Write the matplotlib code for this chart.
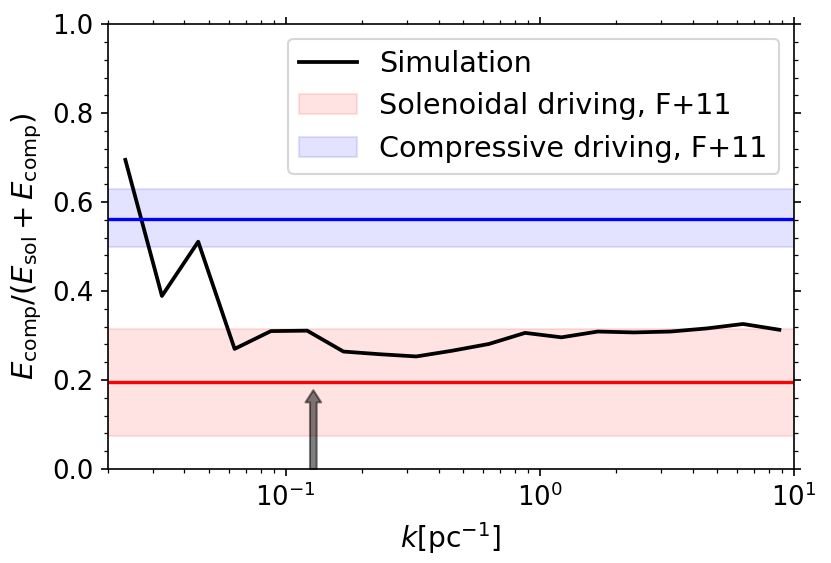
import numpy as np
import matplotlib
matplotlib.use("Agg")
import matplotlib.pyplot as plt

# simulation: compressive energy fraction vs wavenumber
k = [0.0234, 0.0326, 0.0453, 0.0630, 0.0875, 0.1216, 0.169, 0.235, 0.327, 0.454,
     0.631, 0.877, 1.219, 1.694, 2.355, 3.273, 4.550, 6.324, 8.79]
frac = [0.695, 0.389, 0.511, 0.270, 0.310, 0.311, 0.264, 0.258, 0.253, 0.266,
        0.281, 0.306, 0.296, 0.309, 0.307, 0.309, 0.316, 0.326, 0.313]

# Federrath+11 reference values (mean, low, high)
sol_mean, sol_lo, sol_hi = 0.195, 0.075, 0.315
comp_mean, comp_lo, comp_hi = 0.563, 0.498, 0.629

k_arrow = 0.1286
arrow_top = 0.177

fig, ax = plt.subplots(figsize=(831 / 150, 563 / 150), dpi=150)

ax.plot(k, frac, color="k", lw=1.8, label="Simulation")
ax.axhspan(sol_lo, sol_hi, color="red", alpha=0.11, label="Solenoidal driving, F+11")
ax.axhline(sol_mean, color="red", lw=1.6)
ax.axhspan(comp_lo, comp_hi, color="blue", alpha=0.11, label="Compressive driving, F+11")
ax.axhline(comp_mean, color="blue", lw=1.6)

ax.annotate("", xy=(k_arrow, arrow_top), xytext=(k_arrow, 0.0),
            arrowprops=dict(facecolor="black", edgecolor="black", alpha=0.5,
                            width=3.2, headwidth=7.5, headlength=5.8, shrink=0))

ax.set_xscale("log")
ax.set_xlim(0.02, 10)
ax.set_ylim(0, 1)
ax.set_yticks([0.0, 0.2, 0.4, 0.6, 0.8, 1.0])
ax.yaxis.set_minor_locator(matplotlib.ticker.MultipleLocator(0.04))
ax.tick_params(which="both", top=True, right=True, labelsize=12.5)

ax.set_xlabel(r"$k[\rm pc^{-1}]$", fontsize=13.5)
ax.set_ylabel(r"$E_{\rm comp}/(E_{\rm sol}+E_{\rm comp})$", fontsize=14)

ax.legend(loc="upper right", fontsize=13.75)

fig.subplots_adjust(left=0.13, right=0.955, bottom=0.167, top=0.957)
fig.savefig("out.png", dpi=150)
